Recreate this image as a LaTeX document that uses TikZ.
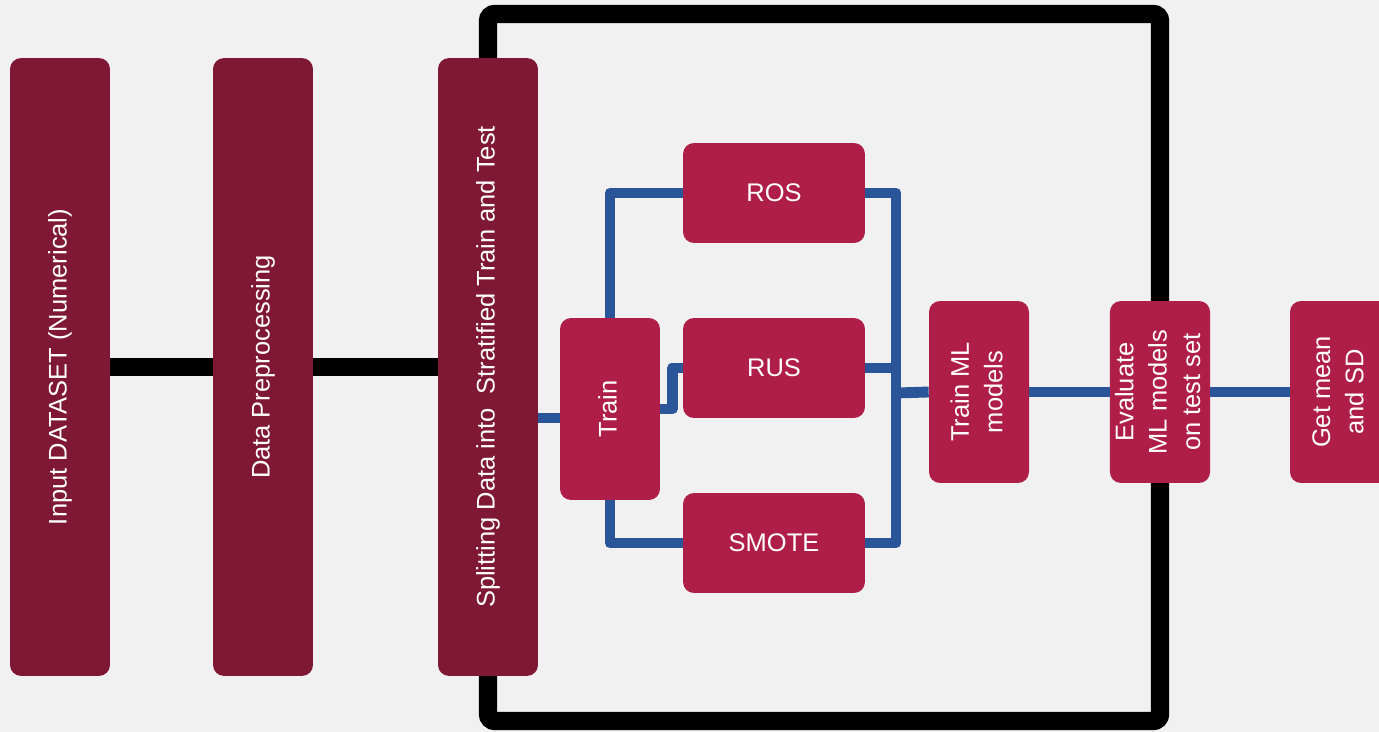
\documentclass[tikz,border=0pt]{standalone}
\usepackage{fontspec}
\setmainfont{Liberation Sans}
\usepackage{graphicx}
\usepackage{tikz}
\definecolor{pagegray}{HTML}{F1F1F1}
\definecolor{darkwine}{HTML}{7E1835}
\definecolor{crimson}{HTML}{AF1E48}
\definecolor{pipeblue}{HTML}{2A5599}
\newcommand{\lblfont}{\fontsize{14.5}{19}\selectfont}
\newcommand{\uptext}[1]{\rotatebox{90}{\begin{tabular}{@{}c@{}}#1\end{tabular}}}
\tikzset{
  tallbar/.style={fill=darkwine, rounded corners=0.22cm, text=white, inner sep=0pt,
    minimum width=2cm, minimum height=12.36cm, font=\lblfont},
  stagebox/.style={fill=crimson, rounded corners=0.22cm, text=white, inner sep=0pt,
    minimum width=2cm, minimum height=3.64cm, font=\lblfont},
  samplebox/.style={stagebox, minimum width=3.64cm, minimum height=2cm},
  blackline/.style={line width=10.5pt},
  blueline/.style={draw=pipeblue, line width=6.2pt, line join=round},
}

\begin{document}
\begin{tikzpicture}[x=0.02cm, y=-0.02cm]
  % General frame is (0,0) to (1379,732), one unit = one pixel
  \fill[pagegray] (0,0) rectangle (1379,732);
  \useasboundingbox (0,0) rectangle (1379,732);

  % loop frame round the sampling and evaluation
  \draw[blackline, rounded corners=4pt] (488,14) rectangle (1160,721);

  % first stages
  \node[tallbar] (input) at (60,367) {\uptext{Input DATASET (Numerical)}};
  \node[tallbar] (prep) at (263,367) {\uptext{Data Preprocessing}};
  \node[tallbar] (split) at (488,367) {\uptext{Splitting Data into\ \ Stratified Train and Test}};
  \draw[blackline] (input.east) -- (prep.west);
  \draw[blackline] (prep.east) -- (split.west);

  % sampling
  \node[stagebox] (train) at (610,409) {\uptext{Train}};
  \node[samplebox] (ros) at (774,193) {ROS};
  \node[samplebox] (rus) at (774,368) {RUS};
  \node[samplebox] (smote) at (774,543) {SMOTE};
  \coordinate (join) at (896,393);
  \coordinate (trainin) at ([yshift=-0.18cm]train.west);

  \draw[blueline] (trainin -| split.east) -- (trainin);
  \draw[blueline] (train.north) |- (ros.west);
  \draw[blueline] (train.east) -- ++(12,0) |- (rus.west);
  \draw[blueline] (train.south) |- (smote.west);
  \draw[blueline] (ros.east) -| (join) |- (smote.east);
  \draw[blueline] (rus.east) -| (join);

  % models
  \node[stagebox] (trainml) at (979,392) {\uptext{Train ML\\models}};
  \node[stagebox] (eval) at (1160,392) {\uptext{Evaluate\\ML models\\on test set}};
  \node[stagebox] (stats) at (1340,392) {\uptext{Get mean\\and SD}};
  \draw[blueline] (join) -- (trainml.west);
  \draw[blueline] (trainml.east) -- (eval.west);
  \draw[blueline] (eval.east) -- (stats.west);
\end{tikzpicture}
\end{document}
